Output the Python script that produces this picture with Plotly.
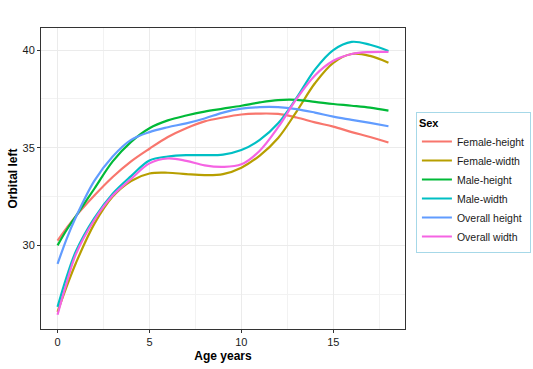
import plotly.graph_objects as go

ages = [0, 0.5, 1, 2, 3, 4, 5, 6, 7, 8, 9, 10, 11, 12, 13, 14, 15, 16, 17, 18]

female_height = [30.25, 30.9, 31.5, 32.55, 33.5, 34.3, 34.95, 35.55, 36.0, 36.35, 36.55, 36.7, 36.75, 36.73, 36.55, 36.3, 36.08, 35.8, 35.55, 35.27]
female_width = [26.6, 27.9, 29.1, 31.1, 32.5, 33.3, 33.68, 33.72, 33.65, 33.6, 33.65, 33.98, 34.6, 35.5, 36.85, 38.3, 39.35, 39.8, 39.7, 39.35]
male_height = [30.0, 30.8, 31.5, 32.9, 34.3, 35.3, 36.0, 36.4, 36.65, 36.85, 37.0, 37.15, 37.32, 37.44, 37.45, 37.35, 37.24, 37.15, 37.05, 36.9]
male_width = [26.85, 28.4, 29.7, 31.4, 32.65, 33.55, 34.35, 34.55, 34.62, 34.62, 34.65, 34.88, 35.4, 36.25, 37.55, 39.0, 40.0, 40.42, 40.27, 39.95]
overall_height = [29.05, 30.35, 31.45, 33.3, 34.55, 35.4, 35.8, 36.05, 36.25, 36.5, 36.8, 37.0, 37.08, 37.08, 36.98, 36.8, 36.59, 36.43, 36.27, 36.1]
overall_width = [26.45, 28.1, 29.55, 31.3, 32.55, 33.4, 34.2, 34.45, 34.33, 34.1, 34.02, 34.15, 34.85, 36.05, 37.5, 38.7, 39.45, 39.8, 39.9, 39.91]

series_names = ["Female-height", "Female-width", "Male-height", "Male-width", "Overall height", "Overall width"]
series_values = [female_height, female_width, male_height, male_width, overall_height, overall_width]
colors = ["#F8766D", "#B79F00", "#00BA38", "#00BFC4", "#619CFF", "#F564E3"]

x_ticks = [0, 5, 10, 15]
y_ticks = [30, 35, 40]

fig = go.Figure()
for name, vals, col in zip(series_names, series_values, colors):
    fig.add_trace(go.Scatter(
        x=ages, y=vals, name=name, mode="lines",
        line=dict(color=col, width=2.2, shape="spline", smoothing=1.0),
    ))

font_family = "Liberation Sans, Arial, sans-serif"

fig.update_layout(
    width=533, height=369,
    margin=dict(l=41, r=128, t=28, b=40, autoexpand=False),
    paper_bgcolor="white", plot_bgcolor="white",
    font=dict(family=font_family, size=11, color="#1a1a1a"),
    showlegend=True,
    legend=dict(
        title=dict(text="<b>Sex</b>", font=dict(size=11, color="black")),
        x=1.03, xanchor="left", y=0.722, yanchor="top",
        bordercolor="#A6D8E8", borderwidth=1, bgcolor="white",
        font=dict(size=10.5, color="#1a1a1a"),
        tracegroupgap=0, itemwidth=30,
    ),
    xaxis=dict(
        range=[-0.9, 18.9], tickvals=x_ticks, ticktext=[str(v) for v in x_ticks],
        showgrid=True, gridcolor="#EBEBEB", gridwidth=1,
        minor=dict(dtick=2.5, tick0=0, showgrid=True, gridcolor="#F2F2F2", gridwidth=0.5),
        showline=True, linecolor="#333333", linewidth=1, mirror=True,
        ticks="outside", ticklen=3, tickcolor="#333333", zeroline=False,
        automargin=False,
        title=dict(text="<b>Age years</b>", font=dict(size=12, color="black"), standoff=4),
        tickfont=dict(size=11, color="#1a1a1a"),
    ),
    yaxis=dict(
        range=[25.72, 41.13], tickvals=y_ticks, ticktext=[str(v) for v in y_ticks],
        showgrid=True, gridcolor="#EBEBEB", gridwidth=1,
        minor=dict(dtick=2.5, tick0=25, showgrid=True, gridcolor="#F2F2F2", gridwidth=0.5),
        showline=True, linecolor="#333333", linewidth=1, mirror=True,
        ticks="outside", ticklen=3, tickcolor="#333333", zeroline=False,
        automargin=False,
        title=dict(text="<b>Orbital left</b>", font=dict(size=12, color="black"), standoff=2),
        tickfont=dict(size=11, color="#1a1a1a"),
    ),
)

fig.write_html(
    "out.html",
    config={"displayModeBar": False},
    post_script="document.body.style.margin='0';document.body.style.padding='0';",
)
